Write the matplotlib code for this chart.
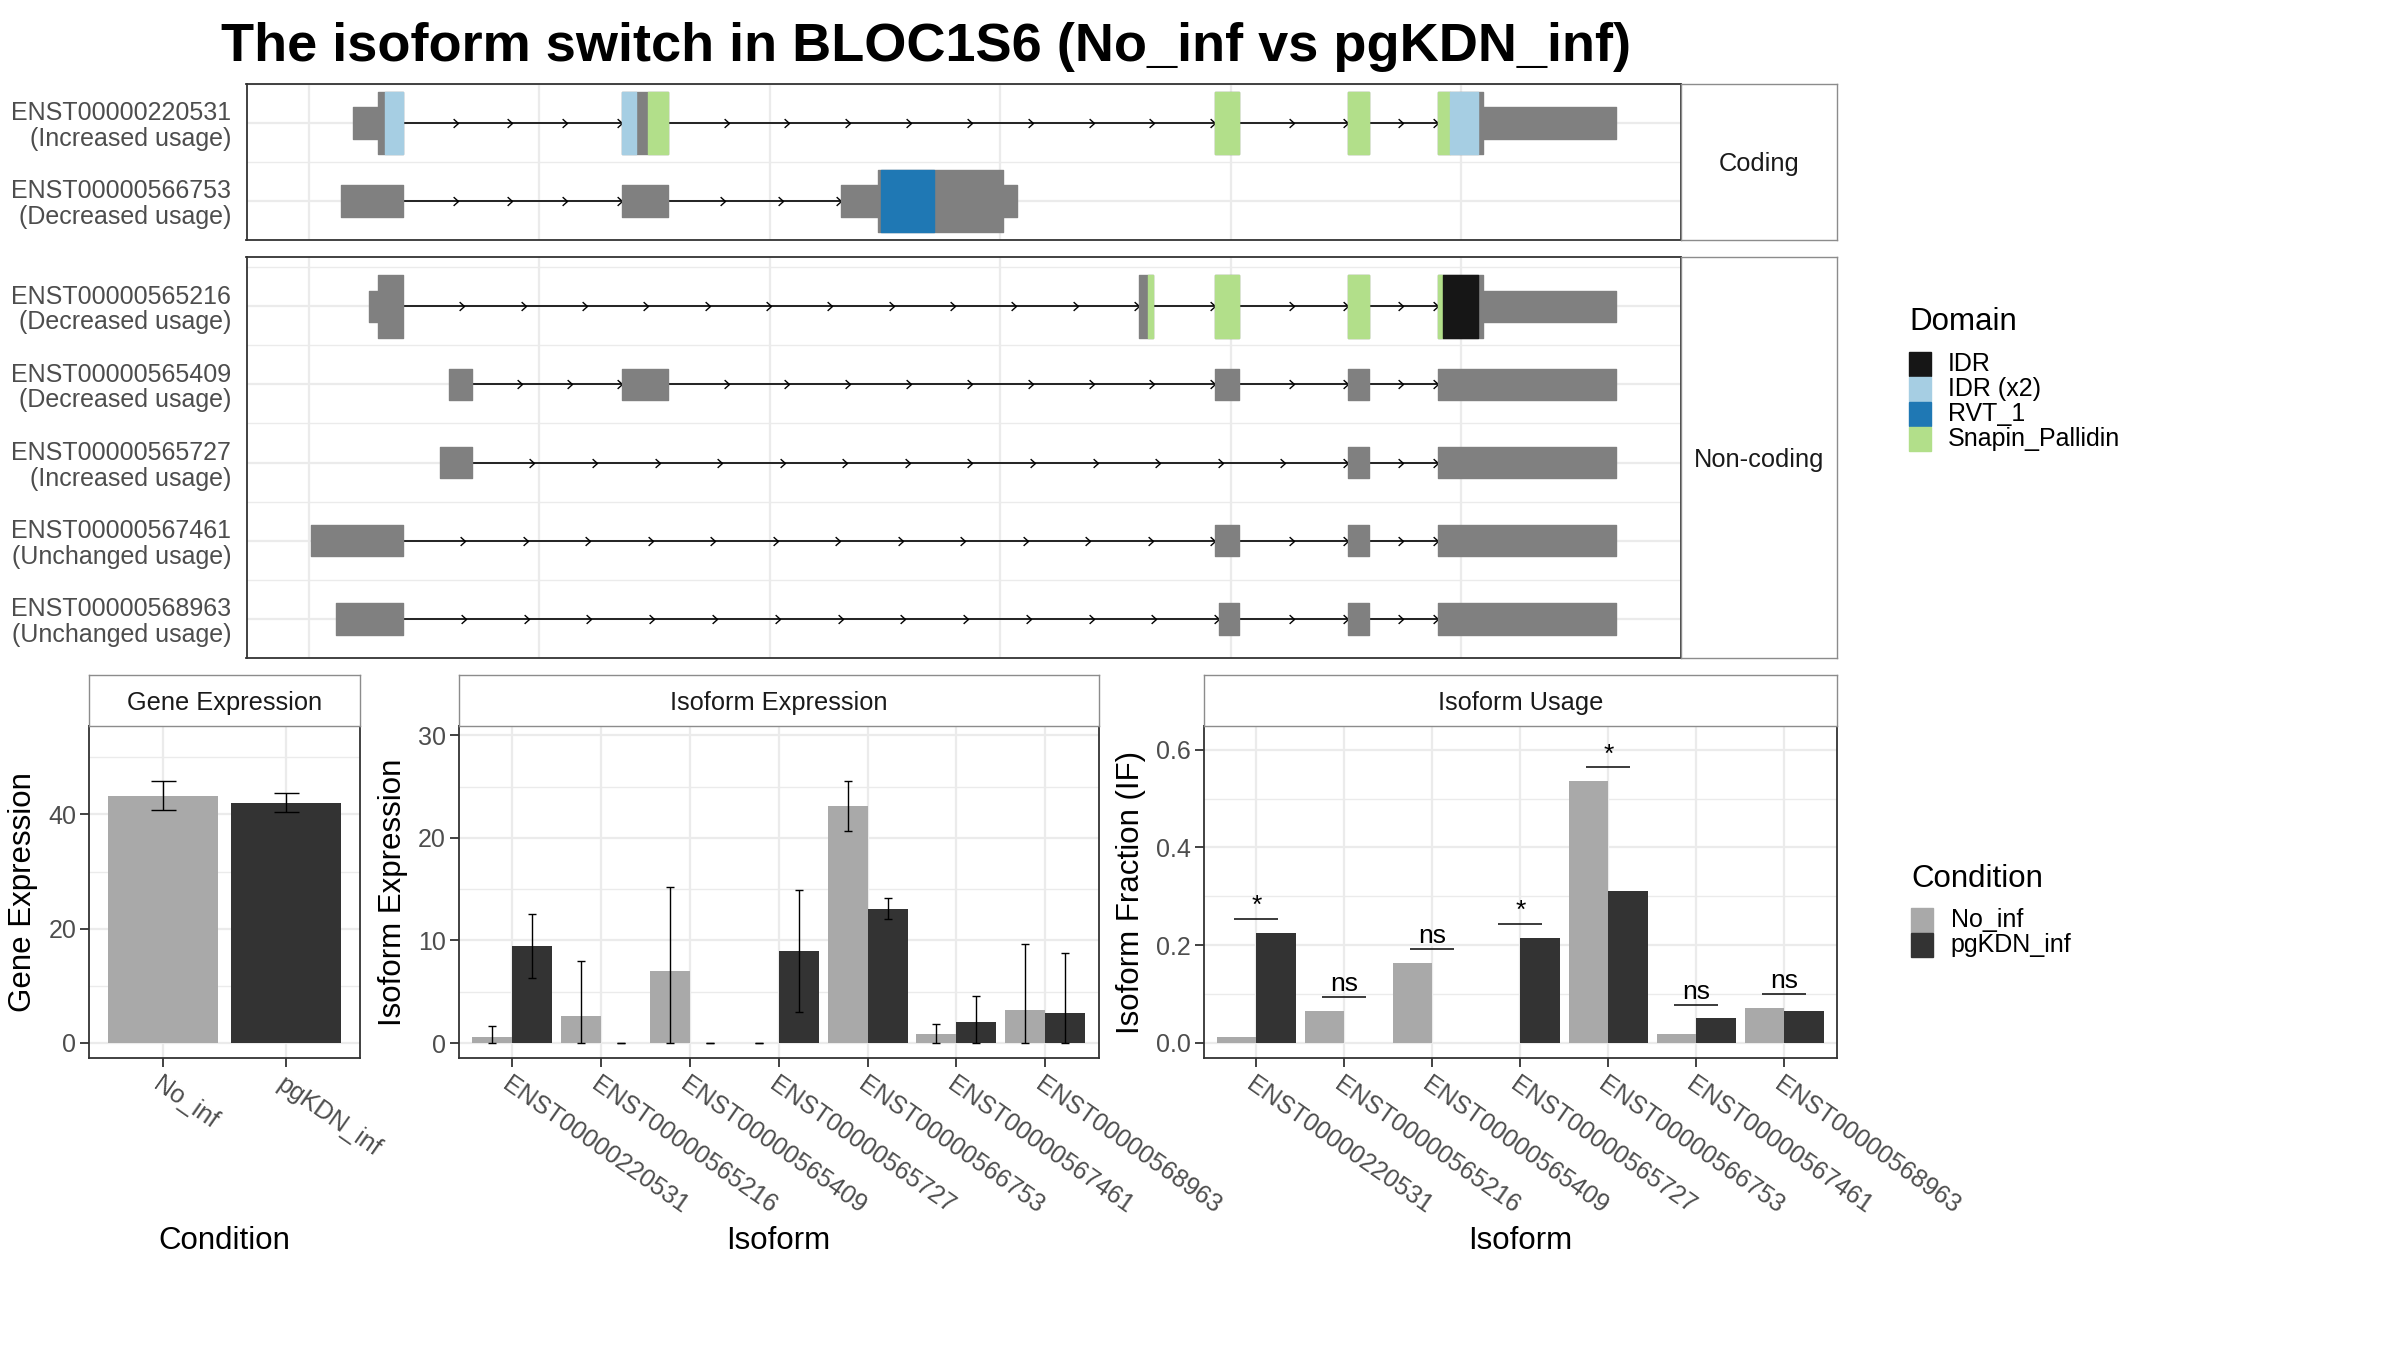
import numpy as np
import matplotlib.pyplot as plt
from matplotlib.transforms import ScaledTranslation

plt.rcParams['font.family'] = ['Liberation Sans', 'DejaVu Sans']

# Daten ------------------------------------------------------------------
title = 'The isoform switch in BLOC1S6 (No_inf vs pgKDN_inf)'

# transcript structures (x in plot units)
tx_ids = ['ENST00000220531', 'ENST00000566753', 'ENST00000565216', 'ENST00000565409',
          'ENST00000565727', 'ENST00000567461', 'ENST00000568963']
tx_usage = ['Increased usage', 'Decreased usage', 'Decreased usage', 'Decreased usage',
            'Increased usage', 'Unchanged usage', 'Unchanged usage']
tx_group = ['Coding', 'Coding', 'Non-coding', 'Non-coding', 'Non-coding', 'Non-coding', 'Non-coding']
tx_exons = [
    [(1.91, 4.08), (13.58, 15.57), (39.34, 40.38), (45.09, 45.99), (49.00, 56.73)],
    [(1.39, 4.08), (13.58, 15.57), (23.09, 30.73)],
    [(2.60, 4.08), (36.02, 36.62), (39.34, 40.38), (45.09, 45.99), (49.00, 56.73)],
    [(6.08, 7.07), (13.58, 15.57), (39.34, 40.38), (45.09, 45.99), (49.00, 56.73)],
    [(5.69, 7.07), (45.09, 45.99), (49.00, 56.73)],
    [(0.09, 4.08), (39.34, 40.38), (45.09, 45.99), (49.00, 56.73)],
    [(1.17, 4.08), (39.51, 40.38), (45.09, 45.99), (49.00, 56.73)],
]
tx_cds = [(2.99, 50.97), (24.68, 30.12), (2.99, 50.97), None, None, None, None]
tx_domains = [
    [(3.28, 4.08, 'IDR (x2)'), (13.58, 14.18, 'IDR (x2)'), (14.71, 15.57, 'Snapin_Pallidin'),
     (39.34, 40.38, 'Snapin_Pallidin'), (45.09, 45.99, 'Snapin_Pallidin'),
     (49.00, 49.52, 'Snapin_Pallidin'), (49.52, 50.75, 'IDR (x2)')],
    [(24.81, 27.13, 'RVT_1')],
    [(36.41, 36.62, 'Snapin_Pallidin'), (39.34, 40.38, 'Snapin_Pallidin'),
     (45.09, 45.99, 'Snapin_Pallidin'), (49.00, 49.22, 'Snapin_Pallidin'), (49.22, 50.75, 'IDR')],
    [], [], [], [],
]
domain_names = ['IDR', 'IDR (x2)', 'RVT_1', 'Snapin_Pallidin']
domain_colors = ['#161616', '#A6CEE3', '#1F78B4', '#B2DF8A']

# expression
conditions = ['No_inf', 'pgKDN_inf']
cond_colors = ['#A9A9A9', '#333333']
gene_expr = [43.2, 42.1]
gene_lo = [40.7, 40.5]
gene_hi = [45.8, 43.7]

isoforms = ['ENST00000220531', 'ENST00000565216', 'ENST00000565409', 'ENST00000565727',
            'ENST00000566753', 'ENST00000567461', 'ENST00000568963']
iso_no = [0.56, 2.62, 7.03, 0.0, 23.08, 0.86, 3.22]
iso_no_lo = [0.0, 0.0, 0.0, 0.0, 20.7, 0.0, 0.0]
iso_no_hi = [1.68, 8.04, 15.19, 0.0, 25.5, 1.87, 9.65]
iso_kd = [9.47, 0.0, 0.0, 8.98, 13.09, 2.06, 2.92]
iso_kd_lo = [6.32, 0.0, 0.0, 3.03, 12.05, 0.0, 0.0]
iso_kd_hi = [12.6, 0.0, 0.0, 14.89, 14.18, 4.6, 8.75]

if_no = [0.012, 0.065, 0.164, 0.0, 0.536, 0.018, 0.0715]
if_kd = [0.225, 0.0, 0.0, 0.215, 0.311, 0.0495, 0.065]
sig = ['*', 'ns', 'ns', '*', '*', 'ns', 'ns']

# Figur -----------------------------------------------------------------
W, H = 2400, 1350
fig = plt.figure(figsize=(24, 13.5), dpi=100)

GRID = '#EBEBEB'
BORDER = '#333333'
STRIP = '#8C8C8C'
TICKTXT = '#4D4D4D'


def px_axes(x0, y0, x1, y1):
    return fig.add_axes([x0 / W, 1 - y1 / H, (x1 - x0) / W, (y1 - y0) / H])


def strip_box(ax, text):
    ax.set_xticks([])
    ax.set_yticks([])
    for s in ax.spines.values():
        s.set_color(STRIP)
        s.set_linewidth(1.0)
    ax.text(0.5, 0.5, text, ha='center', va='center_baseline', fontsize=18.3,
            color='#1A1A1A', transform=ax.transAxes)


def panel_style(ax):
    for s in ax.spines.values():
        s.set_color(BORDER)
        s.set_linewidth(1.3)
    ax.set_axisbelow(True)


chev = [(-1, 0.9), (0, 0), (-1, -0.9)]


def draw_transcripts(ax, rows, ylim):
    for r, i in enumerate(rows):
        y = r + 1
        ex = tx_exons[i]
        for (s0, e0), (s1, e1) in zip(ex[:-1], ex[1:]):
            ax.plot([e0, s1], [y, y], color='black', lw=1.2, zorder=2)
            n = int(np.ceil((s1 - e0) / 2.75))
            tips = e0 + (s1 - e0) * np.arange(1, n + 1) / n
            ax.plot(tips, np.full(n, y), ls='none', marker=chev, ms=7,
                    mfc='none', mec='black', mew=1.0, zorder=2)
        cds = tx_cds[i]
        for s, e in ex:
            if cds is None:
                ax.broken_barh([(s, e - s)], (y - 0.2, 0.4), color='#808080', zorder=3)
                continue
            if s < cds[0]:
                ax.broken_barh([(s, min(e, cds[0]) - s)], (y - 0.2, 0.4), color='#808080', zorder=3)
            if e > cds[1]:
                a = max(s, cds[1])
                ax.broken_barh([(a, e - a)], (y - 0.2, 0.4), color='#808080', zorder=3)
            a, b = max(s, cds[0]), min(e, cds[1])
            if b > a:
                ax.broken_barh([(a, b - a)], (y - 0.4, 0.8), color='#808080', zorder=3)
        for s, e, d in tx_domains[i]:
            ax.broken_barh([(s, e - s)], (y - 0.4, 0.8),
                           color=domain_colors[domain_names.index(d)], zorder=4)
    ax.set_xlim(-2.71, 59.55)
    ax.set_ylim(*ylim)
    ax.set_xticks(np.arange(0, 51, 10))
    ax.set_xticklabels([])
    ax.set_yticks(np.arange(1, len(rows) + 1))
    ax.set_yticks(np.arange(0.5, len(rows) + 1, 1.0), minor=True)
    ax.set_yticklabels([f'{tx_ids[i]}\n({tx_usage[i]})' for i in rows],
                       fontsize=18, color=TICKTXT, linespacing=1.08)
    ax.tick_params(axis='both', which='both', length=0)
    ax.tick_params(axis='y', pad=11)
    ax.grid(which='major', color=GRID, lw=1.6)
    ax.yaxis.grid(which='minor', color=GRID, lw=1.0)
    panel_style(ax)


coding = [i for i, g in enumerate(tx_group) if g == 'Coding']
noncoding = [i for i, g in enumerate(tx_group) if g == 'Non-coding']

ax_c = px_axes(246.5, 84, 1681, 240)
draw_transcripts(ax_c, coding, (2.48, 0.51))
strip_box(px_axes(1681, 84, 1837, 240), 'Coding')

ax_n = px_axes(246.5, 257, 1681, 658)
draw_transcripts(ax_n, noncoding, (5.42, 0.37))
strip_box(px_axes(1681, 257, 1837, 658), 'Non-coding')

fig.text(926 / W, 1 - 47 / H, title, ha='center', va='center', fontsize=39, fontweight='bold')


def bar_axes_style(ax, labels, yticks, yminor, ylim, xn):
    ax.set_xlim(0.4, xn + 0.6)
    ax.set_ylim(*ylim)
    ax.set_yticks(yticks)
    ax.set_yticks(yminor, minor=True)
    ax.set_xticks(np.arange(1, xn + 1))
    ax.set_xticklabels(labels, rotation=-35, ha='left', va='top', rotation_mode='anchor',
                       fontsize=18, color=TICKTXT)
    off = ScaledTranslation(-8 / 100, 0, fig.dpi_scale_trans)
    for lbl in ax.get_xticklabels():
        lbl.set_transform(lbl.get_transform() + off)
    ax.tick_params(axis='both', which='major', length=6.3, width=1.3, color=BORDER,
                   labelsize=18, labelcolor=TICKTXT, pad=3)
    ax.tick_params(axis='x', pad=4)
    ax.tick_params(axis='both', which='minor', length=0)
    ax.grid(which='major', color=GRID, lw=1.6)
    ax.yaxis.grid(which='minor', color=GRID, lw=1.0)
    panel_style(ax)


# Gene expression
ax_g = px_axes(89.3, 726, 359.8, 1057.7)
xg = np.arange(1, 3)
ax_g.bar(xg, gene_expr, width=0.9, color=cond_colors, zorder=2)
ax_g.errorbar(xg, gene_expr, yerr=[np.array(gene_expr) - gene_lo, np.array(gene_hi) - gene_expr],
              fmt='none', ecolor='black', elinewidth=1.0, capsize=9, capthick=1.0, zorder=3)
bar_axes_style(ax_g, conditions, [0, 20, 40], [10, 30, 50], (-2.6, 55.5), 2)
strip_box(px_axes(89.3, 675.4, 359.8, 726), 'Gene Expression')

# Isoform expression
ax_i = px_axes(458.7, 726, 1098.6, 1057.7)
xi = np.arange(1, len(isoforms) + 1)
for k, (vals, lo, hi) in enumerate([(iso_no, iso_no_lo, iso_no_hi), (iso_kd, iso_kd_lo, iso_kd_hi)]):
    xs = xi + (k - 0.5) * 0.45
    v = np.array(vals)
    ax_i.bar(xs, v, width=0.45, color=cond_colors[k], zorder=2)
    ax_i.errorbar(xs, v, yerr=[v - np.array(lo), np.array(hi) - v], fmt='none', ecolor='black',
                  elinewidth=1.0, capsize=3, capthick=1.0, zorder=3)
bar_axes_style(ax_i, isoforms, [0, 10, 20, 30], [5, 15, 25], (-1.43, 30.9), len(isoforms))
strip_box(px_axes(458.7, 675.4, 1098.6, 726), 'Isoform Expression')

# Isoform usage
ax_u = px_axes(1203.6, 726, 1837, 1057.7)
for k, vals in enumerate([if_no, if_kd]):
    ax_u.bar(xi + (k - 0.5) * 0.45, vals, width=0.45, color=cond_colors[k], zorder=2)
top = np.maximum(if_no, if_kd) + 0.028
ax_u.hlines(top, xi - 0.25, xi + 0.25, color='#1A1A1A', lw=1.2, zorder=3)
for x, t, s in zip(xi, top, sig):
    ax_u.text(x, t + 0.002, s, ha='center', va='bottom', fontsize=19, color='black', zorder=4)
bar_axes_style(ax_u, isoforms, [0.0, 0.2, 0.4, 0.6], [0.1, 0.3, 0.5], (-0.031, 0.649), len(isoforms))
ax_u.set_yticklabels(['0.0', '0.2', '0.4', '0.6'])
strip_box(px_axes(1203.6, 675.4, 1837, 726), 'Isoform Usage')

# axis titles
for x, y, t, rot in [(23, 892, 'Gene Expression', 90), (393, 892, 'Isoform Expression', 90),
                     (1131, 892, 'Isoform Fraction (IF)', 90), (224.5, 1241, 'Condition', 0),
                     (778.6, 1241, 'Isoform', 0), (1520, 1241, 'Isoform', 0)]:
    fig.text(x / W, 1 - y / H, t, ha='center', va='center', rotation=rot, fontsize=22.5)

# legends
fig.text(1909 / W, 1 - 322 / H, 'Domain', ha='left', va='center', fontsize=22.5)
for k, (d, c) in enumerate(zip(domain_names, domain_colors)):
    cy = 364 + 25 * k
    fig.patches.append(plt.Rectangle((1909.3 / W, 1 - (cy + 11.8) / H), 21.4 / W, 23.6 / H,
                                     transform=fig.transFigure, color=c))
    fig.text(1948 / W, 1 - cy / H, d, ha='left', va='center', fontsize=18)

fig.text(1911.7 / W, 1 - 879 / H, 'Condition', ha='left', va='center', fontsize=22.5)
for k, (d, c) in enumerate(zip(conditions, cond_colors)):
    cy = 920 + 25 * k
    fig.patches.append(plt.Rectangle((1911 / W, 1 - (cy + 11.8) / H), 21.7 / W, 23.6 / H,
                                     transform=fig.transFigure, color=c))
    fig.text(1950.7 / W, 1 - cy / H, d, ha='left', va='center', fontsize=18)

fig.savefig('out.png', dpi=100, facecolor='white')
